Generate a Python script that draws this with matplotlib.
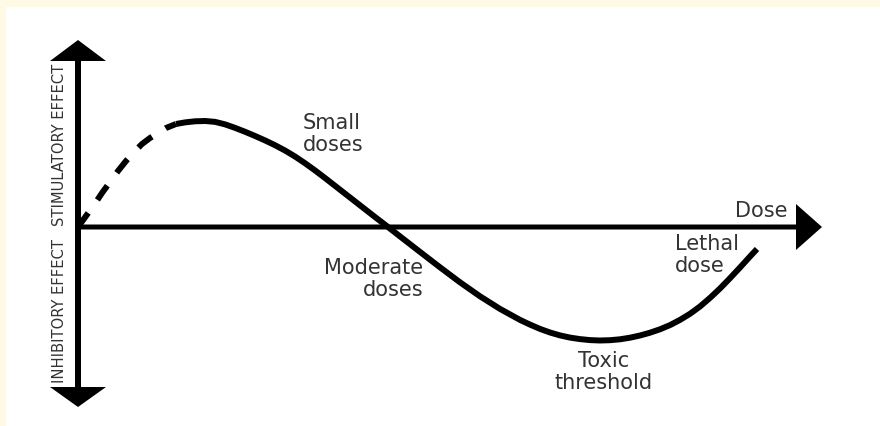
import matplotlib
matplotlib.use("Agg")
import matplotlib.pyplot as plt

# hormesis curve (dose to the right, effect upward)
dash_dose = [0, 8, 16, 24, 32, 40, 48, 56, 64, 72, 80, 88, 98]
dash_effect = [0, 11, 22, 34, 45, 56, 66, 75, 83, 89, 94, 99, 103]

curve_dose = [98, 107, 117, 127, 137, 147, 157, 167, 177, 187, 197, 207, 217,
              227, 237, 247, 257, 267, 277, 287, 297, 310, 322, 342, 362, 382,
              402, 422, 442, 452, 462, 472, 482, 492, 502, 512, 522, 532, 542,
              552, 562, 572, 582, 592, 602, 612, 622, 632, 642, 652, 662, 672, 679]
curve_effect = [103, 104.6, 105.7, 106, 105.15, 102.65, 99.15, 95.25, 91.05, 86.6,
                81.8, 76.5, 70.5, 63.8, 56.6, 49, 41.2, 33.4, 25.6, 17.8, 10, 0,
                -9.4, -24.9, -40.3, -55.3, -69.3, -81.9, -92.9, -97.6, -101.9,
                -105.5, -108.4, -110.6, -112.1, -113.1, -113.5, -113.2, -112.3,
                -110.7, -108.5, -105.7, -102.3, -98.1, -92.9, -86.8, -79.5, -70.9,
                -61.5, -51.2, -40.5, -29.5, -22]

labels = ["Small\ndoses", "Moderate\ndoses", "Toxic\nthreshold", "Lethal\ndose", "Dose"]
label_x = [225, 345, 526, 597, 657]
label_y = [114, -31, -124, -7, 10]
label_ha = ["left", "right", "center", "left", "left"]
label_va = ["top", "top", "top", "top", "baseline"]

axis_labels = ["STIMULATORY EFFECT", "INHIBITORY EFFECT"]
axis_label_y = [82, -84]

fig = plt.figure(figsize=(8.8, 4.26), dpi=100, facecolor="#fffae6")
ax = fig.add_axes([6 / 880, 0, 874 / 880, 419 / 426])
ax.set_facecolor("white")
ax.set_xlim(-72, 802)
ax.set_ylim(-199, 220)
ax.set_xticks([])
ax.set_yticks([])
for sp in ax.spines.values():
    sp.set_visible(False)

txt = "#333333"

# axes drawn as arrows
ax.arrow(0, 0, 0, 187, width=6, head_width=56, head_length=21,
         length_includes_head=True, color="black", lw=0)
ax.arrow(0, 0, 0, -180, width=6, head_width=56, head_length=20,
         length_includes_head=True, color="black", lw=0)
ax.arrow(-3, 0, 747, 0, width=5, head_width=46, head_length=26,
         length_includes_head=True, color="black", lw=0)

plt.rcParams["lines.scale_dashes"] = False
ax.plot(dash_dose, dash_effect, color="black", lw=4.3,
        linestyle=(0, (12.5, 11.5)), dash_capstyle="butt")
ax.plot(curve_dose, curve_effect, color="black", lw=4.3,
        solid_capstyle="butt", solid_joinstyle="round")

for s, x, y, ha, va in zip(labels, label_x, label_y, label_ha, label_va):
    ax.text(x, y, s, ha=ha, va=va, multialignment=ha,
            fontsize=15, color=txt, family=["DejaVu Sans"], linespacing=1.15)

for s, y in zip(axis_labels, axis_label_y):
    ax.text(-19, y, s, rotation=90, ha="center", va="center", fontsize=11.8,
            color=txt, family=["Liberation Sans Narrow", "DejaVu Sans"],
            fontstretch="condensed")

fig.savefig("out.png", dpi=100, facecolor=fig.get_facecolor())
